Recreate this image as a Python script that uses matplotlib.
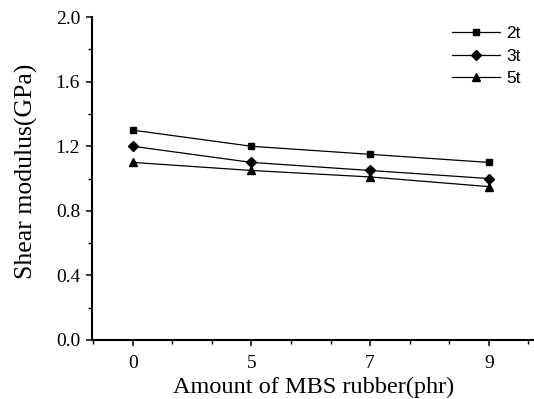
import numpy as np
import matplotlib.pyplot as plt
from matplotlib.ticker import MultipleLocator

rubber = ['0', '5', '7', '9']
g_2t = [1.30, 1.20, 1.15, 1.10]
g_3t = [1.20, 1.10, 1.05, 1.00]
g_5t = [1.10, 1.05, 1.01, 0.95]

fig = plt.figure(figsize=(5.34, 3.99), dpi=100)
ax = fig.add_axes([0.172, 0.148, 0.83, 0.809])
x = np.arange(len(rubber))
ax.plot(x, g_2t, '-s', color='black', lw=0.9, ms=5, label='2t')
ax.plot(x, g_3t, '-D', color='black', lw=0.9, ms=5, label='3t')
ax.plot(x, g_5t, '-^', color='black', lw=0.9, ms=5.5, label='5t')

ax.set_xlim(-0.345, 3.39)
ax.set_ylim(0, 2.0)
ax.set_xticks(x)
ax.set_xticklabels(rubber)
ax.xaxis.set_minor_locator(MultipleLocator(1/3))
ax.set_yticks(np.arange(0, 2.01, 0.4))
ax.yaxis.set_minor_locator(MultipleLocator(0.2))
ax.yaxis.set_major_formatter(plt.FormatStrFormatter('%.1f'))
for s in ['top', 'right']:
    ax.spines[s].set_visible(False)
for s in ['left', 'bottom']:
    ax.spines[s].set_linewidth(1.5)
ax.tick_params(which='major', length=4.5, width=1.1, labelsize=14, direction='out')
ax.tick_params(axis='x', which='major', pad=6)
ax.tick_params(axis='y', which='major', pad=4)
ax.tick_params(which='minor', length=3, width=1.0, direction='out')
for lab in ax.get_xticklabels() + ax.get_yticklabels():
    lab.set_family('Liberation Serif')

ax.set_xlabel('Amount of MBS rubber(phr)', family='Liberation Serif', fontsize=17.5, labelpad=3.5)
ax.set_ylabel('Shear modulus(GPa)', family='Liberation Serif', fontsize=18.5)
ax.yaxis.set_label_coords(-0.122, 0.523)

leg = ax.legend(loc='upper right', frameon=False, prop={'family': 'Liberation Sans', 'size': 12.5},
                handlelength=2.8, labelspacing=0.42, handletextpad=0.35,
                borderpad=0, borderaxespad=0, bbox_to_anchor=(0.968, 0.972))

fig.savefig('out.png', dpi=100)
